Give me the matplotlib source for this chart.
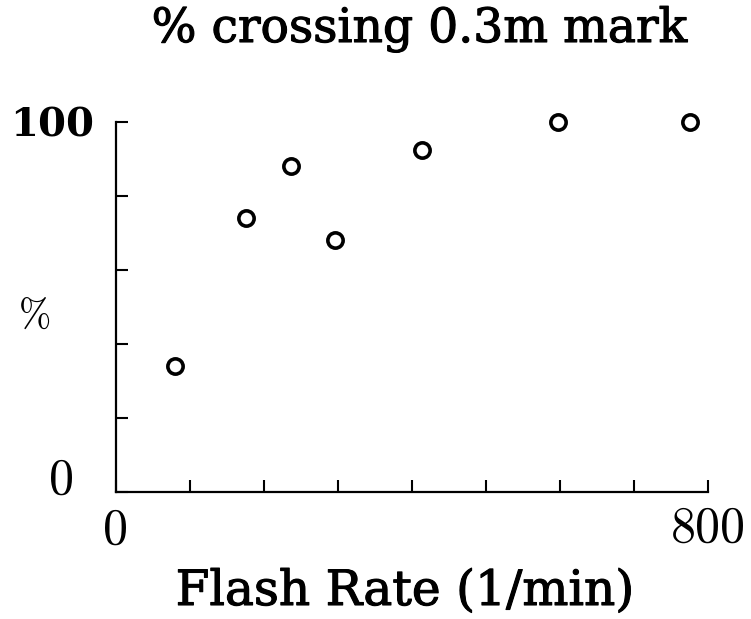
import matplotlib
matplotlib.use("Agg")
import matplotlib.pyplot as plt
import matplotlib.transforms as mtransforms
import matplotlib.patheffects as pe

# Flash rate (1/min) and percentage crossing the 0.3 m mark
flash_rate = [80, 176, 236, 296, 414, 597, 776]
pct_crossing = [34, 74, 88, 68, 92.5, 100, 100]

x_ticks = [0, 100, 200, 300, 400, 500, 600, 700, 800]
y_ticks = [0, 20, 40, 60, 80, 100]

plt.rcParams["axes.formatter.use_mathtext"] = True

W, H = 751, 619
fig = plt.figure(figsize=(W / 100, H / 100), dpi=100)
ax = fig.add_axes([116 / W, 127 / H, 592 / W, 370 / H])

ax.plot(flash_rate, pct_crossing, linestyle="none", marker="o",
        markersize=11, markerfacecolor="none", markeredgecolor="black",
        markeredgewidth=2.6, clip_on=False)

ax.set_xlim(0, 800)
ax.set_ylim(0, 100)
ax.set_xticks(x_ticks)
ax.set_yticks(y_ticks)
ax.set_xticklabels([])
ax.set_yticklabels([])
ax.tick_params(direction="in", length=8.5, width=1.5, color="black")
for side in ("top", "right"):
    ax.spines[side].set_visible(False)
for side in ("left", "bottom"):
    ax.spines[side].set_linewidth(1.6)

# slightly heavier strokes for the serif labels
heavy = [pe.withStroke(linewidth=0.8, foreground="black")]

# end labels only, placed by hand in axis/data blended coordinates
ytrans = mtransforms.blended_transform_factory(ax.transAxes, ax.transData)
xtrans = mtransforms.blended_transform_factory(ax.transData, ax.transAxes)
px = 1 / 592
py = 1 / 370
ax.text(-(116 - 52) * px, 99, "100", transform=ytrans, ha="center", va="center",
        fontfamily="DejaVu Serif", fontweight="bold", fontsize=29)
ax.text(-(116 - 62) * px, 3, "0", transform=ytrans, ha="center", va="center",
        fontfamily="cmr10", fontsize=36)
ax.text(0, -(531 - 492) * py, "0", transform=xtrans, ha="center", va="center",
        fontfamily="cmr10", fontsize=36)
ax.text(800, -(529 - 492) * py, "800", transform=xtrans, ha="center", va="center",
        fontfamily="cmr10", fontsize=36)

ax.text(-(116 - 35) * px, (492 - 318) * py, "%", transform=ax.transAxes,
        ha="center", va="center", fontfamily="cmr10", fontsize=28)

fig.text(420 / W, 1 - 42 / H, "% crossing 0.3m mark", ha="center", va="baseline",
         fontfamily="DejaVu Serif", fontsize=34, path_effects=heavy)
fig.text(405 / W, 1 - 605 / H, "Flash Rate (1/min)", ha="center", va="baseline",
         fontfamily="DejaVu Serif", fontsize=35, path_effects=heavy)

fig.savefig("out.png", dpi=100)
